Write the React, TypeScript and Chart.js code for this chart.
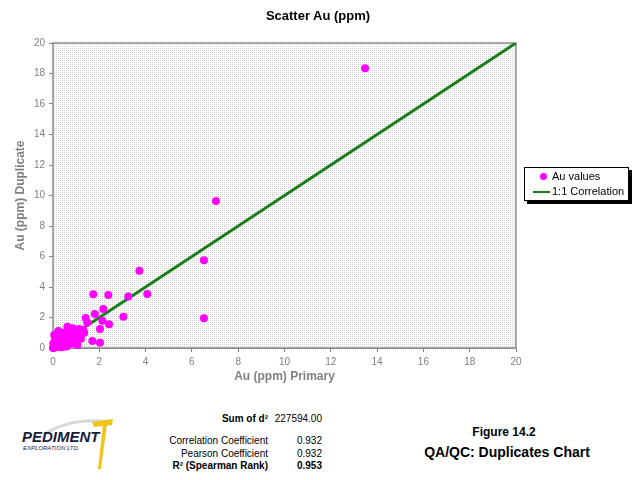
import React, { useEffect, useRef } from "react";
import { Chart, registerables } from "chart.js";
Chart.register(...registerables);

const primaryAu = [
  13.48, 7.04, 6.52, 6.52, 3.73, 4.07, 3.25, 1.74, 2.39, 3.04, 1.81, 2.17, 1.41, 1.48, 2.13, 2.42, 2.03, 1.7, 2.03, 1.05,
  0.02, 0.03, 0.05, 0.06, 0.08, 0.1, 0.12, 0.15, 0.18, 0.2, 0.22, 0.25, 0.28, 0.3, 0.33, 0.35, 0.38, 0.4, 0.42, 0.45,
  0.48, 0.5, 0.52, 0.55, 0.58, 0.6, 0.62, 0.65, 0.68, 0.7, 0.72, 0.75, 0.78, 0.8, 0.85, 0.88, 0.9, 0.95, 1.0, 1.05,
  1.1, 1.15, 1.2, 1.25, 1.3, 1.35, 0.05, 0.09, 0.23, 0.3, 0.15, 0.45, 0.55, 0.85, 0.95, 1.2, 0.4, 0.6, 0.8, 0.0,
  0.01, 0.7, 1.0, 1.12, 0.35,
];
const duplicateAu = [
  18.35, 9.64, 5.75, 1.95, 5.07, 3.54, 3.37, 3.52, 3.48, 2.05, 2.23, 2.56, 1.97, 1.68, 1.79, 1.55, 1.25, 0.46, 0.35, 0.2,
  0.01, 0.08, 0.02, 0.15, 0.05, 0.12, 0.3, 0.06, 0.2, 0.1, 0.35, 0.18, 0.45, 0.25, 0.05, 0.4, 0.3, 0.55, 0.15, 0.5,
  0.38, 0.65, 0.45, 0.2, 0.6, 0.75, 1.4, 0.55, 0.85, 0.4, 0.7, 0.95, 0.65, 0.85, 0.75, 1.0, 0.6, 0.9, 1.05, 0.85,
  1.0, 0.8, 1.1, 0.95, 1.2, 1.0, 0.85, 0.6, 1.11, 0.9, 0.5, 1.0, 0.95, 1.3, 1.2, 0.6, 0.05, 0.1, 0.3, 0.0,
  0.3, 1.15, 0.55, 1.25, 0.7,
];
const correlationX = [0, 20];
const correlationY = [0, 20];
const axisMin = 0;
const axisMax = 20;
const tickStep = 2;

const statLabels = ["Sum of d²", "Correlation Coefficient", "Pearson Coefficient", "R² (Spearman Rank)"];
const statValues = ["227594.00", "0.932", "0.932", "0.953"];

const FONT = "Arial, 'Liberation Sans', sans-serif";
const GRAY = "#808080";

export default function App() {
  const ref = useRef<HTMLCanvasElement>(null);

  useEffect(() => {
    const canvas = ref.current;
    if (!canvas) return;
    const tile = document.createElement("canvas");
    tile.width = 2;
    tile.height = 2;
    const tctx = tile.getContext("2d")!;
    tctx.fillStyle = "#ffffff";
    tctx.fillRect(0, 0, 2, 2);
    tctx.fillStyle = "#d2d2d2";
    tctx.fillRect(0, 0, 1, 1);

    const plotBg = {
      id: "plotBg",
      beforeDatasetsDraw(chart: any) {
        const { ctx, chartArea: a } = chart;
        ctx.save();
        const pat = ctx.createPattern(tile, "repeat");
        ctx.fillStyle = pat;
        ctx.fillRect(a.left, a.top, a.right - a.left, a.bottom - a.top);
        ctx.strokeStyle = "#8c8c8c";
        ctx.lineWidth = 1.5;
        ctx.strokeRect(a.left, a.top, a.right - a.left, a.bottom - a.top);
        ctx.restore();
      },
    };

    const scatterData = primaryAu.map((x, i) => ({ x, y: duplicateAu[i] }));
    const lineData = correlationX.map((x, i) => ({ x, y: correlationY[i] }));

    const tickFont = { family: FONT, size: 10 };
    const titleFont = { family: FONT, size: 12, weight: "bold" as const };

    const chart = new Chart(canvas, {
      type: "scatter",
      data: {
        datasets: [
          {
            label: "Au values",
            data: scatterData,
            backgroundColor: "#ff00ff",
            borderWidth: 0,
            pointRadius: 4,
            pointHoverRadius: 4,
            clip: false as any,
          },
          {
            type: "line" as any,
            label: "1:1 Correlation",
            data: lineData,
            borderColor: "#1a7d1a",
            borderWidth: 3,
            pointRadius: 0,
            fill: false,
          },
        ],
      },
      plugins: [plotBg],
      options: {
        responsive: false,
        animation: false,
        events: [],
        layout: { padding: { left: 8, right: 124, top: 43, bottom: 0 } },
        plugins: {
          legend: { display: false },
          tooltip: { enabled: false },
          title: { display: false },
        },
        scales: {
          x: {
            type: "linear",
            min: axisMin,
            max: axisMax,
            ticks: { stepSize: tickStep, color: GRAY, font: tickFont, padding: 4, maxRotation: 0 },
            grid: { drawOnChartArea: false, drawTicks: true, tickLength: 4, color: GRAY },
            border: { display: true, color: GRAY, width: 1 },
            title: { display: true, text: "Au (ppm) Primary", color: GRAY, font: titleFont, padding: { top: 0, bottom: 16 } },
            afterFit(scale: any) {
              scale.height = 52;
            },
          },
          y: {
            type: "linear",
            min: axisMin,
            max: axisMax,
            ticks: { stepSize: tickStep, color: GRAY, font: tickFont, padding: 4 },
            grid: { drawOnChartArea: false, drawTicks: true, tickLength: 4, color: GRAY },
            border: { display: true, color: GRAY, width: 1 },
            title: { display: true, text: "Au (ppm) Duplicate", color: GRAY, font: titleFont, padding: { top: 5, bottom: 0 } },
            afterFit(scale: any) {
              scale.width = 45;
            },
          },
        },
      },
    });
    return () => chart.destroy();
  }, []);

  const abs = (style: React.CSSProperties): React.CSSProperties => ({ position: "absolute", ...style });
  const statTops = [413, 435, 448, 460];

  return (
    <div style={{ position: "fixed", left: 0, top: 0, width: 640, height: 480, background: "#fff", fontFamily: FONT, color: "#000" }}>
      <canvas ref={ref} width={640} height={400} style={abs({ left: 0, top: 0, width: 640, height: 400 })} />
      <div style={abs({ left: 0, top: 8, width: 636, textAlign: "center", fontSize: 13, fontWeight: "bold", lineHeight: "16px" })}>
        Scatter Au (ppm)
      </div>
      {/* legend */}
      <div
        style={abs({
          left: 524,
          top: 167,
          width: 103,
          height: 32,
          background: "#fff",
          border: "1px solid #000",
          boxShadow: "3px 3px 0 #000",
          fontSize: 11,
        })}
      >
        <div style={abs({ left: 15, top: 5, width: 7, height: 7, borderRadius: "50%", background: "#ff00ff" })} />
        <div style={abs({ left: 27, top: 2, lineHeight: "13px", whiteSpace: "nowrap" })}>Au values</div>
        <div style={abs({ left: 8, top: 23, width: 17, height: 2, background: "#1a7d1a" })} />
        <div style={abs({ left: 27, top: 17, lineHeight: "13px", whiteSpace: "nowrap" })}>1:1 Correlation</div>
      </div>
      {/* stats */}
      {statLabels.map((s, i) => (
        <div
          key={"l" + i}
          style={abs({
            left: 120,
            width: 148,
            top: statTops[i],
            textAlign: "right",
            fontSize: 10,
            lineHeight: "12px",
            fontWeight: i === 0 || i === 3 ? "bold" : "normal",
            whiteSpace: "nowrap",
          })}
        >
          {s}
        </div>
      ))}
      {statValues.map((s, i) => (
        <div
          key={"v" + i}
          style={abs({
            left: 262,
            width: 60,
            top: statTops[i],
            textAlign: "right",
            fontSize: 10,
            lineHeight: "12px",
            fontWeight: i === 3 ? "bold" : "normal",
          })}
        >
          {s}
        </div>
      ))}
      <div style={abs({ left: 394, width: 220, top: 425, textAlign: "center", fontSize: 12, fontWeight: "bold", lineHeight: "14px" })}>
        Figure 14.2
      </div>
      <div style={abs({ left: 397, width: 220, top: 444, textAlign: "center", fontSize: 14, fontWeight: "bold", lineHeight: "17px" })}>
        QA/QC: Duplicates Chart
      </div>
      {/* logo */}
      <svg width={100} height={60} style={abs({ left: 18, top: 415 })}>
        <path d="M 28 18 Q 55 2 90 7" stroke="#d8d8d8" strokeWidth={3} fill="none" />
        <text x={4} y={27} fontFamily={FONT} fontStyle="italic" fontWeight="bold" fontSize={15} fill="#1b1b3a">
          PEDIMENT
        </text>
        <text x={5} y={35} fontFamily={FONT} fontStyle="italic" fontSize={6} fill="#1b1b3a">
          EXPLORATION LTD.
        </text>
        <path d="M 74 7 L 95 4 L 94 10 L 76 12 Z" fill="#f0c419" />
        <path d="M 85 9 L 89 9 L 83 54 L 80 54 Z" fill="#f0c419" />
      </svg>
    </div>
  );
}
